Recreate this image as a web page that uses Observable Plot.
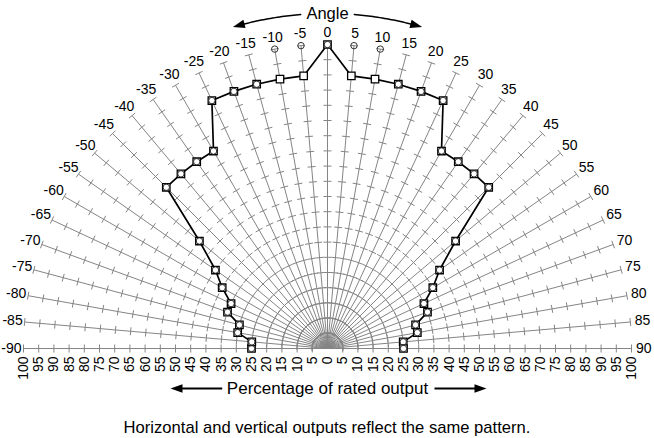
<!DOCTYPE html>
<html><head><meta charset="utf-8">
<script src="https://cdn.jsdelivr.net/npm/d3@7"></script>
<script src="https://cdn.jsdelivr.net/npm/@observablehq/plot@0.6"></script>
<style>
html,body{margin:0;padding:0;background:#fff;}
figure{margin:0;}
figcaption{font-family:"Liberation Sans",Arial,sans-serif;font-size:16.6px;color:#000;text-align:center;margin-top:6px;line-height:19px;}
</style></head><body><div id="chart"></div>
<script>
// Angles (degrees) of the radial lines / angle labels
const angles = [-90,-85,-80,-75,-70,-65,-60,-55,-50,-45,-40,-35,-30,-25,-20,-15,-10,-5,0,5,10,15,20,25,30,35,40,45,50,55,60,65,70,75,80,85,90];
// Tick positions along each radial line (percentage)
const radialTicks = [5,10,15,20,25,30,35,40,45,50,55,60,65,70,75,80,85,90,95,100];
// Percentage tick labels along the baseline (signed position, shown as absolute)
const percentTicks = [-100,-95,-90,-85,-80,-75,-70,-65,-60,-55,-50,-45,-40,-35,-30,-25,-20,-15,-10,-5,0,5,10,15,20,25,30,35,40,45,50,55,60,65,70,75,80,85,90,95,100];
// Horizontal output (squares), one value per angle
const horizontal = [25,25,30,30,35,35,40,45,55,75,75,75,75,90,90,90,90,90,100,90,90,90,90,90,75,75,75,75,55,45,40,35,35,30,30,25,25];
// Vertical output (circles), one value per angle
const vertical = [25,25,30,30,35,35,40,45,55,75,75,75,75,90,90,90,100,100,100,100,100,90,90,90,75,75,75,75,55,45,40,35,35,30,30,25,25];

const W = 654, H = 412, CX = 327, CY = 348, K = 3.04; // px per percent
const FONT = '"Liberation Sans", Arial, sans-serif';
const rad = d => d * Math.PI / 180;
const px = (r, a) => r * Math.sin(rad(a));
const py = (r, a) => r * Math.cos(rad(a));

const spokes = angles.map(a => ({x1: 0, y1: 0, x2: px(100, a), y2: py(100, a)}));
const TL = 4 / K;
const ticks = angles.flatMap(a => radialTicks.map(r => {
  const c = Math.cos(rad(a)), s = Math.sin(rad(a));
  return {x1: px(r, a) - TL * c, y1: py(r, a) + TL * s, x2: px(r, a) + TL * c, y2: py(r, a) - TL * s};
}));
const hPts = angles.map((a, i) => ({x: px(horizontal[i], a), y: py(horizontal[i], a)}));
const vPts = angles.map((a, i) => ({x: px(vertical[i], a), y: py(vertical[i], a)}));

// annotation geometry
const RA = 335 / K;
const arcL = d3.range(4.6, 15.21, 0.4).map(a => ({x: px(RA, -a), y: py(RA, -a)}));
const arcR = d3.range(4.6, 15.21, 0.4).map(a => ({x: px(RA, a), y: py(RA, a)}));
const heads = [
  {x: px(RA, -15.2), y: py(RA, -15.2), rot: -90 - 15.2},
  {x: px(RA, 15.2), y: py(RA, 15.2), rot: 90 + 15.2},
  {x: (177 - CX) / K, y: -(388 - CY) / K, rot: -90},
  {x: (479 - CX) / K, y: -(388 - CY) / K, rot: 90}
];
const yAx = -(388 - CY) / K;
const arrowHead = {draw(ctx, size) {
  const s = Math.sqrt(size / Math.PI);
  ctx.moveTo(0, -1.75 * s); ctx.lineTo(1.05 * s, 1.25 * s); ctx.lineTo(-1.05 * s, 1.25 * s); ctx.closePath();
}};

const chart = Plot.plot({
  width: W, height: H, margin: 0,
  x: {domain: [-CX / K, (W - CX) / K], axis: null},
  y: {domain: [-(H - CY) / K, CY / K], axis: null},
  style: {fontFamily: FONT, fontSize: "14px", background: "#fff", color: "#000"},
  caption: "Horizontal and vertical outputs reflect the same pattern.",
  marks: [
    Plot.link(spokes, {x1: "x1", y1: "y1", x2: "x2", y2: "y2", stroke: "#858585", strokeWidth: 1}),
    Plot.link(ticks, {x1: "x1", y1: "y1", x2: "x2", y2: "y2", stroke: "#858585", strokeWidth: 1}),
    Plot.line(hPts, {x: "x", y: "y", stroke: "#000", strokeWidth: 1.7}),
    Plot.dot(hPts, {x: "x", y: "y", symbol: "square", r: 4.2, stroke: "#000", fill: "#fff", strokeWidth: 1.3}),
    Plot.dot(vPts, {x: "x", y: "y", r: 3.2, stroke: "#333", fill: "none", strokeWidth: 1}),
    Plot.text(angles, {x: a => px(104, a), y: a => py(104, a), text: a => String(a), fontSize: 14, fill: "#000"}),
    Plot.text(percentTicks, {x: d => d, y: -8 / K, text: d => String(Math.abs(d)), rotate: -90, textAnchor: "end", fontSize: 14, fill: "#000"}),
    Plot.text(["Angle"], {x: 0, y: (CY - 13.5) / K, text: d => d, fontSize: 16.5, fill: "#000"}),
    Plot.text(["Percentage of rated output"], {x: 0, y: yAx, text: d => d, fontSize: 17, fill: "#000"}),
    Plot.line(arcL, {x: "x", y: "y", stroke: "#000", strokeWidth: 1.5}),
    Plot.line(arcR, {x: "x", y: "y", stroke: "#000", strokeWidth: 1.5}),
    Plot.link([{x1: (221.7 - CX) / K, x2: (178 - CX) / K}, {x1: (434 - CX) / K, x2: (478 - CX) / K}],
      {x1: "x1", x2: "x2", y1: yAx, y2: yAx, stroke: "#000", strokeWidth: 2}),
    Plot.dot(heads, {x: "x", y: "y", symbol: arrowHead, r: 4, fill: "#000", stroke: "none", rotate: "rot"})
  ]
});
document.getElementById("chart").appendChild(chart);
</script></body></html>
